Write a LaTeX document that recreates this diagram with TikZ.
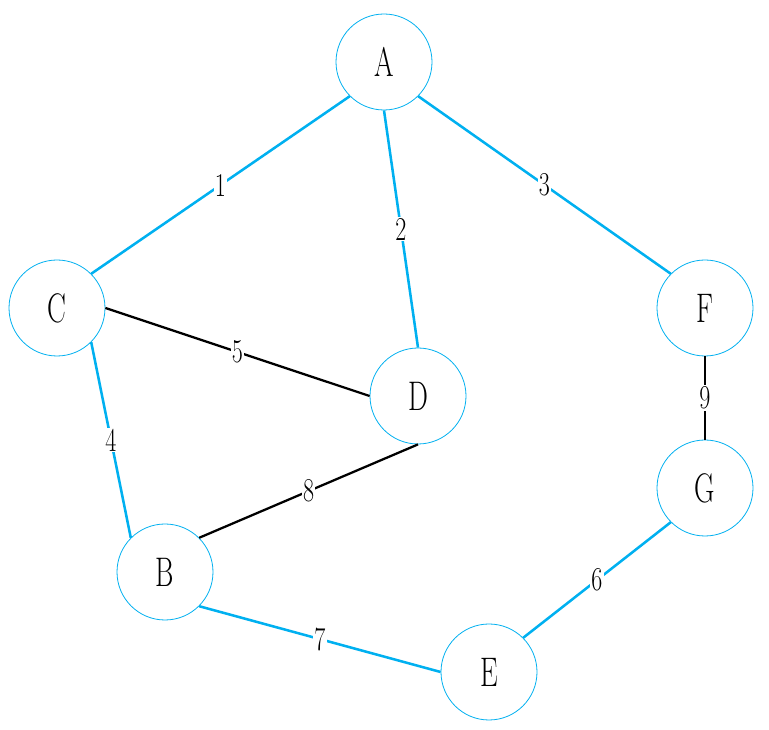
\documentclass[tikz,border=0pt]{standalone}
\usepackage{amsmath}
\usepackage{amssymb}
\usepackage{graphicx}
\definecolor{edgeblue}{RGB}{0,176,240}
\newcommand{\vlab}[1]{\scalebox{0.68}[1]{\fontsize{31}{31}\selectfont #1}}
\newcommand{\wlab}[1]{\scalebox{0.72}[1]{\fontsize{25}{25}\selectfont #1}}
\tikzset{
  vertex/.style={circle, draw=edgeblue, line width=0.6pt, minimum size=72pt, inner sep=0pt, fill=white},
  tree/.style={draw=edgeblue, line width=1.9pt},
  plain/.style={draw=black, line width=1.7pt},
  weight/.style={fill=white, inner sep=1pt, midway}
}

\begin{document}
\begin{tikzpicture}[x=0.75pt,y=0.75pt,yscale=-1,xscale=1]
\useasboundingbox (0,0) rectangle (769,730);

%Shape: Circle vertices
\node [vertex] (A) at (384,62) {\vlab{A}};
\node [vertex] (C) at (57,308) {\vlab{C}};
\node [vertex] (D) at (418,396) {\vlab{D}};
\node [vertex] (F) at (705,308) {\vlab{F}};
\node [vertex] (G) at (705,488) {\vlab{G}};
\node [vertex] (B) at (165,572) {\vlab{B}};
\node [vertex] (E) at (489,672) {\vlab{E}};

%Straight Lines
\draw [tree] (A.south west) -- (C.north east) node [weight] {\wlab{1}};
\draw [tree] (A.south) -- (D.north) node [weight] {\wlab{2}};
\draw [tree] (A.south east) -- (F.north west) node [weight] {\wlab{3}};
\draw [tree] (C.south east) -- (B.north west) node [weight] {\wlab{4}};
\draw [plain] (C.east) -- (D.west) node [weight] {\wlab{5}};
\draw [tree] (E.north east) -- (G.south west) node [weight] {\wlab{6}};
\draw [tree] (B.south east) -- (E.west) node [weight] {\wlab{7}};
\draw [plain] (D.south) -- (B.north east) node [weight] {\wlab{8}};
\draw [plain] (F.south) -- (G.north) node [weight] {\wlab{9}};

\end{tikzpicture}
\end{document}
